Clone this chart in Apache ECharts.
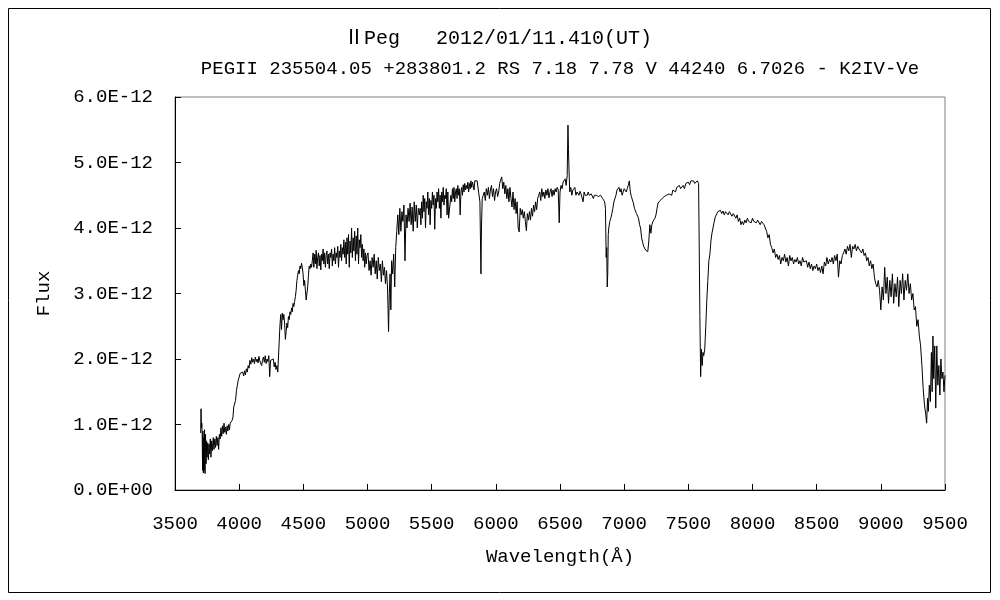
<!DOCTYPE html>
<html>
<head>
<meta charset="utf-8">
<script src="https://cdn.jsdelivr.net/npm/echarts@6/dist/echarts.min.js"></script>
<style>
html,body{margin:0;padding:0;background:#fff;}
#chart{width:1000px;height:600px;}
</style>
</head>
<body>
<div id="chart"></div>
<script>
// ---- Data (flux values are in units of 1E-12) ----
var titleText = 'ⅡPeg   2012/01/11.410(UT)';
var subtitleText = 'PEGII 235504.05 +283801.2 RS 7.18 7.78 V 44240 6.7026 - K2IV-Ve';
var xAxisName = 'Wavelength(Å)';
var yAxisName = 'Flux';
var xTicks = [3500, 4000, 4500, 5000, 5500, 6000, 6500, 7000, 7500, 8000, 8500, 9000, 9500];
var yTicks = [0, 1, 2, 3, 4, 5, 6];
var fluxUnit = 1e-12;

var spectrumUV = [[3700,0.87],[3703,1.24],[3706,0.95],[3709,1.02],[3712,0.82],[3715,0.3],[3718,0.9],[3721,0.26],[3724,0.8],[3727,0.3],[3730,0.92],[3734,0.25],[3738,0.85],[3742,0.4],[3746,0.75],[3750,0.5],[3755,0.72],[3760,0.46],[3765,0.7],[3770,0.55],[3775,0.78],[3780,0.5],[3786,0.75],[3792,0.6],[3798,0.8],[3804,0.62],[3810,0.78],[3816,0.65],[3822,0.82],[3828,0.68],[3834,0.8],[3840,0.62],[3846,0.85],[3852,0.78],[3858,0.95],[3864,0.82],[3870,0.98],[3876,0.86],[3882,1.02],[3888,0.88],[3894,0.96],[3900,0.85],[3906,0.98],[3912,0.9],[3918,1.0],[3924,0.92],[3930,1.02],[3937,1.0],[3944,1.06],[3951,1.1],[3958,1.27],[3965,1.3],[3972,1.37],[3979,1.52],[3986,1.6],[3993,1.68],[4000,1.72],[4007,1.78],[4014,1.8],[4021,1.76],[4028,1.8],[4035,1.74],[4042,1.82],[4049,1.76],[4056,1.85],[4063,1.8],[4070,1.9],[4077,1.86],[4084,1.98],[4091,1.92],[4098,2.02],[4105,1.95],[4112,2.0],[4119,1.93],[4126,2.03],[4133,1.96],[4140,2.0],[4147,1.94],[4154,2.04],[4161,1.97],[4168,2.0],[4175,1.9],[4182,1.98],[4189,2.03],[4196,1.95],[4203,2.05],[4210,1.93],[4217,2.0],[4224,1.96],[4231,2.05],[4238,1.73],[4245,1.98],[4252,1.95],[4259,1.98],[4266,2.0],[4273,1.88],[4280,1.95],[4287,1.84],[4294,1.9],[4301,1.8],[4308,1.78],[4314,1.82]];

var spectrumBlue = [[4318,2.52],[4324,2.68],[4330,2.45],[4336,2.7],[4342,2.6],[4348,2.68],[4354,2.55],[4360,2.3],[4366,2.42],[4372,2.55],[4378,2.48],[4384,2.65],[4390,2.6],[4396,2.72],[4402,2.68],[4408,2.78],[4414,2.72],[4420,2.85],[4426,2.8],[4432,2.88],[4438,2.95],[4444,3.05],[4450,3.2],[4456,3.28],[4462,3.35],[4468,3.3],[4474,3.42],[4480,3.38],[4486,3.46],[4492,3.4],[4498,3.3],[4504,3.12],[4510,3.2],[4516,3.05],[4522,2.9],[4528,2.88],[4534,3.1],[4540,3.28],[4546,3.42],[4552,3.38],[4558,3.45],[4564,3.4],[4570,3.5],[4576,3.62],[4582,3.4],[4588,3.6],[4594,3.45],[4600,3.66],[4606,3.38],[4612,3.55],[4618,3.62],[4624,3.42],[4630,3.58],[4636,3.36],[4642,3.6],[4648,3.5],[4654,3.68],[4660,3.45],[4666,3.62],[4672,3.4],[4678,3.58],[4684,3.65],[4690,3.45],[4696,3.6],[4702,3.38],[4708,3.62],[4714,3.55],[4720,3.68],[4726,3.42],[4732,3.6],[4738,3.5],[4744,3.7],[4750,3.45],[4756,3.62],[4762,3.55],[4768,3.72],[4774,3.4],[4780,3.65],[4786,3.55],[4792,3.75],[4798,3.5],[4804,3.7],[4810,3.6],[4816,3.82],[4822,3.55],[4828,3.78],[4834,3.45],[4840,3.85],[4846,3.6],[4852,3.9],[4858,3.4],[4864,3.8],[4870,3.62],[4876,4.0],[4882,3.55],[4888,3.85],[4894,3.65],[4900,3.95],[4906,3.5],[4912,3.88],[4918,3.6],[4924,4.0],[4930,3.45],[4936,3.82],[4942,3.7],[4948,3.9],[4954,3.55],[4960,3.75],[4966,3.5],[4972,3.68],[4978,3.4],[4984,3.62],[4990,3.45],[4996,3.58],[5004,3.62],[5012,3.35],[5020,3.5],[5028,3.28],[5036,3.55],[5044,3.4],[5052,3.6],[5060,3.3],[5068,3.5],[5076,3.22],[5084,3.55],[5092,3.35],[5100,3.45],[5108,3.18],[5116,3.5],[5124,3.28],[5132,3.4],[5140,3.15],[5148,3.35],[5156,3.1],[5164,2.42],[5170,3.0],[5176,3.3],[5182,2.75],[5188,3.5],[5196,3.3],[5204,3.6],[5212,3.1],[5220,3.7],[5228,3.95],[5236,4.2],[5244,3.9],[5252,4.3],[5260,3.95],[5268,4.25],[5276,4.1],[5284,4.35],[5292,3.5],[5300,4.2],[5308,4.0],[5316,4.3],[5324,4.1],[5332,4.38],[5340,4.05],[5348,4.32],[5356,3.95],[5364,4.4],[5372,4.1],[5380,4.35],[5388,4.0],[5396,4.3],[5404,4.2]];

var spectrumGreen = [[5410,4.3],[5416,4.05],[5422,4.4],[5428,4.15],[5434,4.5],[5440,4.25],[5446,4.45],[5452,4.0],[5458,4.4],[5464,4.3],[5470,4.55],[5476,4.2],[5482,4.45],[5488,4.05],[5494,4.42],[5500,4.3],[5506,4.55],[5512,4.35],[5518,4.5],[5524,3.98],[5530,4.45],[5536,4.3],[5542,4.55],[5548,4.4],[5554,4.6],[5560,4.3],[5566,4.5],[5572,4.15],[5578,4.55],[5584,4.4],[5590,4.62],[5596,4.35],[5602,4.5],[5608,4.45],[5614,4.6],[5620,4.2],[5626,4.55],[5632,4.15],[5638,4.15],[5644,4.15],[5650,4.5],[5656,4.4],[5662,4.6],[5668,4.45],[5674,4.62],[5680,4.4],[5686,4.55],[5692,4.6],[5698,4.45],[5704,4.65],[5710,4.5],[5716,4.6],[5722,4.2],[5728,4.55],[5734,4.62],[5740,4.5],[5746,4.66],[5752,4.55],[5758,4.68],[5764,4.58],[5770,4.65],[5776,4.6],[5782,4.7],[5788,4.55],[5794,4.68],[5800,4.6],[5806,4.72],[5812,4.62],[5818,4.7],[5824,4.65],[5830,4.58],[5836,4.72],[5842,4.7],[5848,4.74],[5854,4.72],[5860,4.73],[5868,4.72],[5876,4.4],[5884,3.3],[5888,4.0],[5894,4.45],[5902,4.5],[5910,4.55],[5918,4.42],[5926,4.6],[5934,4.5],[5942,4.62],[5950,4.45],[5958,4.58],[5966,4.65],[5974,4.48],[5982,4.6],[5990,4.42],[5998,4.55],[6006,4.6],[6014,4.48],[6022,4.55],[6030,4.68],[6038,4.74],[6046,4.78],[6054,4.6],[6062,4.7],[6070,4.52],[6078,4.65],[6086,4.45],[6094,4.6],[6102,4.4],[6110,4.62],[6118,4.45],[6126,4.32],[6134,4.55],[6142,4.28],[6150,4.45],[6158,4.22],[6166,4.4],[6174,4.0],[6182,3.94],[6190,4.3],[6198,4.2],[6206,4.28],[6214,4.15],[6222,4.25],[6230,4.1],[6238,3.96],[6246,4.22],[6254,4.12],[6262,4.25],[6270,4.12],[6278,4.3],[6286,4.18],[6294,4.35],[6302,4.25],[6310,4.4],[6318,4.28],[6326,4.45],[6334,4.5],[6342,4.55],[6350,4.42],[6358,4.6],[6366,4.48],[6374,4.55],[6382,4.45],[6390,4.58],[6398,4.5],[6406,4.6],[6414,4.46],[6422,4.55],[6430,4.6],[6438,4.48],[6446,4.58],[6454,4.5],[6462,4.6],[6470,4.55],[6478,4.62],[6486,4.58],[6494,4.08],[6500,4.55],[6508,4.65],[6516,4.6],[6524,4.7],[6532,4.68],[6540,4.75],[6548,4.65],[6556,4.8],[6562,5.57],[6566,5.2],[6570,4.9],[6576,4.55],[6584,4.62],[6592,4.5]];

var spectrumRed = [[6600,4.58],[6608,4.55],[6616,4.62],[6624,4.5],[6632,4.55],[6640,4.58],[6648,4.5],[6656,4.56],[6664,4.52],[6672,4.55],[6680,4.4],[6688,4.55],[6696,4.5],[6704,4.52],[6712,4.5],[6720,4.55],[6728,4.5],[6736,4.48],[6744,4.52],[6752,4.5],[6760,4.45],[6768,4.5],[6776,4.48],[6784,4.5],[6792,4.5],[6800,4.48],[6808,4.5],[6816,4.5],[6824,4.5],[6832,4.45],[6840,4.45],[6848,4.4],[6854,4.3],[6860,3.55],[6864,3.7],[6868,3.1],[6872,3.3],[6876,3.9],[6880,4.0],[6888,4.1],[6896,4.15],[6904,4.22],[6912,4.3],[6920,4.4],[6928,4.42],[6936,4.5],[6944,4.58],[6952,4.55],[6960,4.62],[6968,4.55],[6976,4.6],[6984,4.5],[6992,4.55],[7000,4.6],[7008,4.58],[7016,4.55],[7024,4.6],[7032,4.65],[7040,4.72],[7048,4.55],[7056,4.48],[7064,4.45],[7072,4.38],[7080,4.3],[7088,4.32],[7096,4.22],[7104,4.25],[7112,4.15],[7120,4.05],[7128,4.0],[7136,3.85],[7144,3.78],[7152,3.72],[7160,3.7],[7168,3.66],[7176,3.68],[7184,3.64],[7192,3.8],[7200,4.05],[7208,3.92],[7216,4.05],[7224,4.1],[7232,4.08],[7240,4.15],[7248,4.2],[7256,4.3],[7264,4.38],[7272,4.35],[7280,4.42],[7288,4.4],[7296,4.45],[7304,4.42],[7312,4.48],[7320,4.45],[7330,4.5],[7340,4.48],[7350,4.52],[7360,4.55],[7370,4.5],[7380,4.58],[7390,4.6],[7400,4.55],[7410,4.62],[7420,4.6],[7430,4.65],[7440,4.6],[7450,4.62],[7460,4.65],[7470,4.6],[7480,4.68],[7490,4.65],[7500,4.7],[7510,4.66],[7520,4.72],[7530,4.7],[7540,4.72],[7550,4.68],[7560,4.7],[7570,4.72],[7580,4.68]];

var spectrumNIR = [[7590,2.65],[7596,1.73],[7602,2.15],[7608,1.9],[7614,2.1],[7620,2.05],[7628,2.15],[7636,2.5],[7644,2.9],[7652,3.2],[7660,3.5],[7668,3.6],[7676,3.8],[7684,3.92],[7692,4.0],[7700,4.08],[7710,4.17],[7720,4.2],[7730,4.25],[7740,4.22],[7750,4.27],[7760,4.22],[7770,4.26],[7780,4.2],[7790,4.25],[7800,4.28],[7810,4.2],[7820,4.25],[7830,4.22],[7840,4.18],[7850,4.22],[7860,4.2],[7870,4.15],[7880,4.2],[7890,4.1],[7900,4.15],[7910,4.05],[7920,4.1],[7930,4.05],[7940,4.12],[7950,4.08],[7960,4.15],[7970,4.1],[7980,4.12],[7990,4.08],[8000,4.15],[8010,4.1],[8020,4.12],[8030,4.08],[8040,4.12],[8050,4.1],[8060,4.05],[8070,4.1],[8080,4.08],[8090,4.05],[8100,4.0],[8110,3.95],[8120,3.85],[8130,3.9],[8140,3.75],[8150,3.7],[8160,3.62],[8170,3.68],[8180,3.55],[8190,3.6],[8200,3.52],[8210,3.58],[8220,3.45],[8230,3.55],[8240,3.5],[8250,3.6],[8260,3.48],[8270,3.55],[8280,3.42],[8290,3.58],[8300,3.5],[8310,3.55],[8320,3.45],[8330,3.52],[8340,3.48],[8350,3.55],[8360,3.45],[8370,3.5],[8380,3.42],[8390,3.55],[8400,3.48],[8410,3.45],[8420,3.5],[8430,3.4],[8440,3.48],[8450,3.38],[8460,3.45],[8470,3.35],[8480,3.42],[8490,3.38],[8500,3.45],[8510,3.35],[8520,3.4],[8530,3.32],[8540,3.42],[8550,3.3],[8560,3.48],[8570,3.42],[8580,3.55],[8590,3.45],[8600,3.52],[8610,3.48],[8620,3.55],[8630,3.45],[8640,3.58],[8650,3.5],[8660,3.6],[8670,3.25],[8680,3.5],[8690,3.45],[8700,3.58],[8710,3.62],[8720,3.68],[8730,3.6],[8740,3.72],[8750,3.65],[8760,3.75],[8770,3.55],[8780,3.72],[8790,3.68],[8800,3.75],[8810,3.65],[8820,3.72],[8830,3.68],[8840,3.7],[8850,3.62],[8860,3.68],[8870,3.58],[8880,3.62],[8890,3.5],[8900,3.55],[8910,3.42],[8920,3.5],[8930,3.38],[8940,3.45],[8950,3.25],[8960,3.15],[8970,3.1],[8980,3.2],[8990,3.05],[9000,2.75],[9010,3.1],[9020,2.9],[9030,3.4],[9040,3.0],[9050,3.25],[9060,2.85],[9070,3.2],[9080,2.95],[9090,3.3],[9100,2.85],[9110,3.15],[9120,2.95],[9130,3.25],[9140,2.8],[9150,3.2],[9160,3.0],[9170,3.3],[9180,2.9],[9190,3.2],[9200,3.05],[9210,3.3],[9220,3.0],[9230,3.15],[9240,2.9],[9250,3.0],[9260,2.75],[9270,2.8],[9280,2.5],[9290,2.6],[9300,2.35],[9310,2.2],[9320,1.9],[9330,1.55],[9340,1.3],[9350,1.15],[9357,1.02],[9364,1.4],[9370,1.2],[9378,1.6],[9386,1.35],[9394,2.1],[9400,1.5],[9406,2.35],[9412,1.7],[9420,2.2],[9428,1.25],[9436,2.2],[9444,1.6],[9452,1.9],[9460,1.45],[9468,2.0],[9476,1.7],[9484,1.8],[9492,1.5],[9500,1.75]];

// ---- Build ----
var spectrum = [].concat(spectrumUV, spectrumBlue, spectrumGreen, spectrumRed, spectrumNIR)
  .map(function (p) { return [p[0], p[1] * fluxUnit]; });

var FONT = "'Liberation Mono','DejaVu Sans Mono','Noto Sans CJK JP',monospace";

var chart = echarts.init(document.getElementById('chart'), null, {renderer: 'canvas'});
chart.setOption({
  animation: false,
  backgroundColor: '#fff',
  graphic: [
    {type: 'rect', shape: {x: 8.5, y: 8.5, width: 982, height: 584}, style: {fill: null, stroke: '#000', lineWidth: 1}, silent: true},
    {type: 'text', x: 498, y: 39, style: {text: titleText, fontFamily: FONT, fontSize: 20, fill: '#000', align: 'center', verticalAlign: 'middle'}},
    {type: 'text', x: 560, y: 69, style: {text: subtitleText, fontFamily: FONT, fontSize: 19, fill: '#000', align: 'center', verticalAlign: 'middle'}}
  ],
  grid: {left: 175, right: 55, top: 97, bottom: 110, show: true, borderColor: '#808080', borderWidth: 1, backgroundColor: '#fff'},
  xAxis: {
    type: 'value', min: xTicks[0], max: xTicks[xTicks.length - 1], interval: xTicks[1] - xTicks[0],
    name: xAxisName, nameLocation: 'middle', nameGap: 57,
    nameTextStyle: {fontFamily: FONT, fontSize: 19, color: '#000'},
    axisLine: {show: true, lineStyle: {color: '#000', width: 1}},
    axisTick: {show: true, inside: true, length: 6, lineStyle: {color: '#000'}},
    axisLabel: {fontFamily: FONT, fontSize: 19, color: '#000', margin: 24,
      formatter: function (v) { return String(Math.round(v)); }},
    splitLine: {show: false}
  },
  yAxis: {
    type: 'value', min: yTicks[0] * fluxUnit, max: yTicks[yTicks.length - 1] * fluxUnit, interval: (yTicks[1] - yTicks[0]) * fluxUnit,
    name: yAxisName, nameLocation: 'middle', nameGap: 122, nameRotate: 90,
    nameTextStyle: {fontFamily: FONT, fontSize: 19, color: '#000'},
    axisLine: {show: true, lineStyle: {color: '#000', width: 1}},
    axisTick: {show: true, inside: true, length: 6, lineStyle: {color: '#000'}},
    axisLabel: {
      fontFamily: FONT, fontSize: 19, color: '#000', margin: 22,
      formatter: function (v) {
        var n = Math.round(v / fluxUnit * 10) / 10;
        return n === 0 ? '0.0E+00' : n.toFixed(1) + 'E-12';
      }
    },
    splitLine: {show: false}
  },
  series: [{
    type: 'line', data: spectrum, showSymbol: false, symbol: 'none',
    lineStyle: {color: '#000', width: 1}, silent: true, clip: true
  }]
});
</script>
</body>
</html>
